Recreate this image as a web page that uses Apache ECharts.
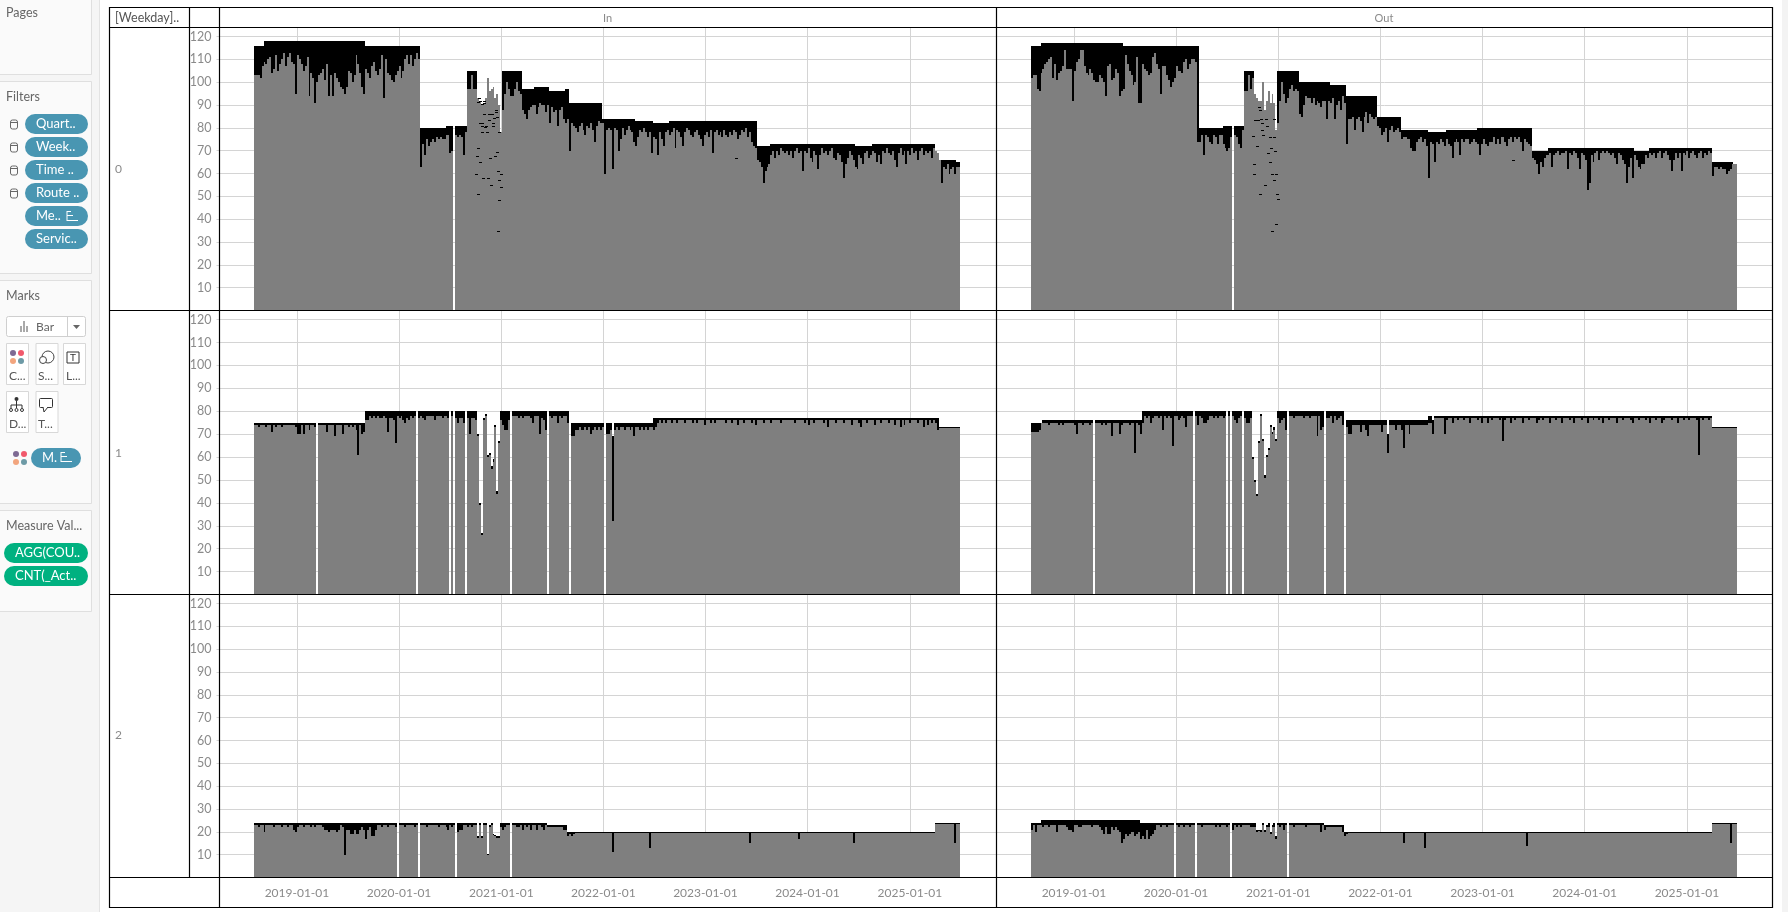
<!DOCTYPE html>
<html><head><meta charset="utf-8">
<style>html,body{margin:0;padding:0;background:#fff}#c{width:1788px;height:912px}</style>
<script src="https://cdn.jsdelivr.net/npm/echarts@6/dist/echarts.min.js"></script>
</head><body><div id="c"></div>
<script>
const r=(v,n)=>Array(n).fill(v);
const firstWeek=Date.UTC(2018,7,3), DAY=86400000;
const rowLabels=['0','1','2'];
const colLabels=['In','Out'];
const yTicksMax=124;

// Weekday 0, In
const grey0In=[
103,103,103,102,107,109,108,110,111,104,106,112,105,108,110,113,107,111,113,109,
108,95,112,110,108,105,107,111,94,104,102,91,100,103,104,106,101,108,94,103,
94,104,102,100,98,97,95,98,105,104,100,103,112,108,104,98,95,106,104,102,
107,109,105,103,106,112,93,110,104,103,101,100,103,105,107,102,105,110,112,108,
112,107,110,113,110,63,73,68,75,72,74,75,74,76,75,76,75,75,77,77,
69,70,null,77,76,77,76,68,78,97,97,103,97,97,93,92,90,91,93,102,
96,97,98,93,95,90,78,88,95,100,97,94,94,97,100,96,95,88,86,84,
88,89,90,90,86,89,91,90,90,87,90,82,89,87,88,81,88,89,84,82,
84,70,82,81,80,78,81,82,79,77,81,80,82,79,74,81,83,82,82,60,
79,80,79,62,80,79,70,75,80,77,79,81,79,78,74,72,76,79,78,80,
78,76,78,69,76,75,68,78,75,72,78,79,77,78,80,71,79,78,76,72,
78,80,79,77,76,78,79,77,75,72,77,78,76,79,69,78,79,77,78,76,
79,77,76,78,77,79,78,75,77,79,78,80,76,78,74,72,71,66,65,63,
56,61,63,64,68,70,67,70,68,71,70,69,70,68,70,67,70,71,69,70,
61,70,69,71,67,65,70,68,62,68,71,69,70,68,70,71,67,66,69,68,
65,58,64,67,70,68,66,63,62,68,67,64,69,70,67,68,70,69,65,68,
64,70,69,71,69,68,70,66,63,69,71,68,70,64,70,68,71,69,70,66,
70,71,68,70,69,70,67,71,70,69,66,56,63,62,64,60,62,63,60,63,63];
const top0In=[...r(116,5),...r(118,52),...r(116,28),...r(80,13),...r(81,4),null,...r(81,6),...r(105,5),...r(null,13),...r(105,10),
...r(97,6),...r(98,8),...r(96,8),...r(97,2),...r(91,17),...r(84,17),...r(83,9),...r(82,8),...r(83,45),...r(72,7),...r(73,43),...r(72,9),...r(73,32),...r(66,11),65,65];
const dash0In=[[114.6,92.9],[115.1,91.9],[114.1,91.2],[116.5,90.3],[117.2,91.9],[117.5,91.1],[117.5,86.1],[120,86],[121.4,86],[123.6,87.9],[123.3,87.1],[122.6,84.2],[124,84.9],[119.7,83.5],[115.5,82],[116.5,82],[116.3,81],[118.4,81],[118,80.2],[121.9,82],[121.9,81],[116.5,78],[118.9,78],[125.2,78],[114.4,71],[113.9,67.8],[120.6,67],[123.1,67.8],[124.1,69.3],[115.5,64.9],[113.4,60],[116.8,57.9],[119.5,57.9],[124.6,61],[126.2,60],[121.1,55.2],[125.2,57],[126.2,54],[114.4,50.9],[125.2,48.2],[124.6,35],[246.3,67]];

// Weekday 0, Out
const grey0Out=[
102,103,103,97,96,104,106,108,109,110,111,102,108,101,104,105,107,114,106,106,
106,92,105,109,110,114,114,107,104,103,106,104,101,100,100,103,102,100,94,107,
108,101,102,106,104,94,96,97,112,108,105,103,99,100,111,91,91,108,106,105,
103,104,111,113,108,106,95,107,107,103,101,98,100,102,107,105,105,104,109,110,
106,108,110,110,109,74,74,77,68,77,76,74,73,77,76,73,77,77,73,71,
70,71,76,null,77,76,73,71,79,96,96,103,97,102,95,93,92,92,100,88,
92,96,91,95,91,79,82,92,100,95,91,93,97,99,96,97,96,86,85,90,
94,93,93,91,93,90,92,91,89,92,92,84,92,91,93,84,90,92,88,94,
91,73,84,84,85,79,84,85,83,78,85,87,82,86,85,84,85,81,80,77,
78,80,74,79,81,78,79,80,78,75,76,76,75,75,71,70,70,74,75,76,
74,75,72,58,74,73,65,74,73,75,74,72,75,73,72,67,74,75,74,68,
75,74,75,75,73,74,75,74,73,68,73,75,73,72,74,74,76,73,75,73,
76,76,74,72,75,76,74,76,75,76,74,70,75,74,73,72,67,66,64,60,
65,63,67,68,68,69,63,68,69,70,68,69,69,70,62,69,68,70,69,67,
62,69,68,66,53,56,68,65,69,70,66,69,70,69,70,69,68,69,67,64,
69,68,66,64,56,63,67,58,68,66,63,62,64,64,68,67,69,68,69,67,
69,70,67,69,70,68,66,61,66,69,67,69,61,69,68,70,67,69,70,68,
67,69,70,67,69,68,70,69,59,63,63,62,63,62,62,60,61,62,64,64,64];
const top0Out=[...r(116,5),...r(117,42),...r(116,39),...r(80,12),...r(81,5),null,...r(81,5),...r(105,5),...r(null,12),...r(105,11),
...r(100,16),...r(99,8),...r(94,16),...r(85,12),...r(79,14),...r(78,9),...r(79,16),...r(80,28),...r(70,8),...r(71,44),...r(70,8),...r(71,32),...r(65,11),64,64];
const dash0Out=[[113.3,76.3],[113.6,64],[113.8,60],[115.4,72],[117,50.9],[114.5,83.3],[115.7,83.3],[117.6,84],[117,88],[116.2,89],[117.9,82],[117.9,79],[118.4,77],[119.6,55],[120.5,81],[120.1,84],[121.1,69],[122.2,76],[122.2,65],[122.7,71],[123,60],[123.9,76],[124.2,57],[124.7,70],[125.2,60],[125.2,38],[123,35],[125.7,51],[126.2,49],[124.2,84],[246,65.8]];

// Weekday 1, In
const grey1In=[
74,74,73,74,74,74,73,74,74,71,74,73,74,74,73,74,74,74,74,74,
74,73,70,70,74,70,74,74,72,74,74,73,null,74,74,74,74,71,74,74,
74,69,74,74,74,70,74,74,73,74,73,74,72,61,74,70,71,76,76,78,
77,78,77,78,77,77,78,77,71,77,77,76,66,78,77,78,76,75,77,76,
78,77,78,null,77,78,77,76,78,78,78,78,76,78,78,78,77,78,78,77,
null,78,null,77,75,77,77,75,null,77,70,77,77,76,69,39,26,76,78,60,
61,55,58,73,44,66,76,74,72,72,76,null,78,78,78,77,78,77,78,78,
78,77,75,78,78,78,70,77,76,72,null,78,77,78,78,75,78,77,78,78,
75,null,69,69,72,72,73,72,72,73,72,73,70,72,73,72,73,72,73,null,
70,70,72,32,72,73,72,73,73,72,73,73,72,73,69,73,73,72,73,72,
73,72,73,73,72,73,75,76,75,76,75,76,76,75,76,76,75,76,76,76,
75,76,76,76,75,76,75,76,76,76,74,76,76,75,76,75,76,76,76,76,
76,75,76,76,75,76,76,74,76,76,75,76,76,76,75,76,74,76,76,76,
75,76,76,76,75,76,76,76,76,75,76,76,76,76,76,76,75,76,76,76,
76,75,76,74,76,76,75,76,76,76,76,75,76,73,76,76,76,75,76,76,
76,75,76,76,76,74,76,76,76,75,73,76,76,75,76,76,76,74,76,76,
75,76,76,76,75,76,76,74,76,76,73,76,74,76,76,75,76,76,76,75,
76,76,73,76,74,76,75,76,75,72,72.5,72.5,72.5,72.5,72.5,72.5,72.5,72.5,72.5,72.5,72.5];
const top1In=[...r(75,32),null,...r(75,24),...r(80,26),null,...r(80,16),null,80,null,...r(80,5),null,...r(80,5),
70,40,27,77,79,61,62,56,59,74,45,67,...r(80,5),null,...r(80,18),null,...r(80,10),null,...r(75,17),null,...r(75,3),69,...r(75,20),...r(77,3),...r(77,143),...r(73,11)];

// Weekday 1, Out
const grey1Out=[
71,71,71,71,72,75,75,75,75,74,75,75,75,75,74,75,74,75,75,75,
75,75,74,70,75,75,74,75,75,75,74,75,null,75,75,75,74,75,74,75,
75,69,75,75,75,70,74,75,75,75,74,75,75,62,75,74,70,75,78,77,
78,75,77,78,78,77,78,72,78,77,78,77,65,78,78,76,77,78,77,73,
78,78,78,null,78,74,78,77,75,75,76,78,78,77,78,77,78,78,77,78,
null,78,null,78,76,75,77,78,null,77,75,75,77,59,49,43,66,78,67,51,
60,63,73,70,72,67,77,75,76,77,72,null,78,78,77,78,78,78,78,77,
78,78,77,78,78,78,69,78,72,73,null,77,77,78,75,78,76,77,78,74,
null,73,70,70,74,74,74,74,71,74,74,72,69,74,74,74,74,74,74,71,
74,74,62,74,74,74,72,74,74,72,64,74,74,70,74,74,74,74,74,74,
74,74,74,75,75,70,77,77,77,77,77,70,76,77,77,75,77,77,76,77,
77,76,77,77,75,77,77,77,76,77,75,77,77,75,77,76,77,77,77,76,
77,67,76,77,77,75,77,76,77,77,77,75,77,77,76,77,77,77,75,76,
77,76,77,77,77,75,77,77,76,77,77,75,77,77,77,76,77,75,77,77,
77,76,77,77,75,77,77,76,77,77,76,77,75,77,77,76,77,77,77,75,
77,77,76,77,77,77,76,75,77,77,76,77,77,77,76,77,75,77,77,76,
77,77,75,76,77,77,77,76,77,77,75,77,77,76,77,77,76,77,77,77,
76,61,77,76,77,77,76,77,...r(72.5,13)];
const top1Out=[...r(75,6),...r(76,26),null,...r(76,24),...r(80,26),null,...r(80,16),null,80,null,...r(80,5),null,...r(80,4),
60,50,44,67,79,68,52,61,64,74,71,73,68,...r(80,5),null,...r(80,18),null,...r(80,9),null,...r(76,21),70,...r(76,20),78,78,76,...r(78,142),...r(73,13)];

// Weekday 2, In
const grey2In=[
23,23,22,23,23,20,23,23,23,23,22,23,23,23,22,23,23,22,23,23,
21,20,22,23,23,22,23,23,23,22,23,22,23,23,23,22,21,21,20,21,
21,21,20,21,23,22,10,21,21,19,19,21,19,19,21,22,21,17,21,22,
18,18,21,23,23,22,23,23,22,23,23,23,22,null,23,23,23,22,23,23,
23,23,22,23,null,23,23,23,22,23,23,23,23,23,22,23,23,23,22,21,
23,22,23,null,20,21,21,23,23,22,23,22,23,23,17.5,23,17.5,23,23,10,
22,23,18.5,18,17.5,17.5,22,21,22,23,23,null,23,23,22,22,23,21,23,22,
23,21,23,23,21,23,23,22,21,23,22,22,22,22,22,22,22,22,21,21,
18,19,18,19,...r(19.5,19),11,...r(19.5,18),13,...r(19.5,50),15,...r(19.5,24),17,...r(19.5,27),15,...r(19.5,41),...r(23.5,10),15,23.5,23.5];
const top2In=[...r(24,73),null,...r(24,10),null,...r(24,18),null,...r(24,10),18,24,18,24,24,10.5,23,24,19,18.5,18,18,...r(24,5),null,...r(24,18),...r(23,10),...r(20,188),...r(24,13)];

// Weekday 2, Out
const grey2Out=[
21,23,20,23,23,23,22,23,23,22,23,23,23,20,23,23,23,23,22,21,
21,20,23,23,22,22,23,23,23,23,23,22,23,23,23,22,21,19,22,19,
19,22,21,22,21,20,15,17,19,18,19,20,20,18,19,20,17,18,17,21,
17,18,19,21,23,23,22,23,23,22,23,23,23,null,23,22,23,23,22,23,
23,22,23,23,null,23,23,22,23,23,23,23,23,23,22,23,22,23,23,23,
22,23,null,21,23,22,23,22,23,23,23,23,22,22,22,20,20.5,20,23,20,
22,22,19,22,22,17,23,22,23,21,23,null,23,23,22,23,23,23,23,23,
22,23,23,23,23,23,23,23,20,23,21,22,22,22,22,22,22,22,22,20,
18,19,...r(19.5,28),15,...r(19.5,10),13,...r(19.5,51),14,...r(19.5,94),...r(23.5,9),15,...r(23.5,3)];
const top2Out=[...r(24,5),...r(25,51),...r(24,17),null,...r(24,10),null,...r(24,17),null,...r(24,11),24,21,21,21,24,21,23,24,20,23,24,18,...r(24,5),null,...r(24,18),...r(23,10),...r(20,188),...r(24,13)];

const panels=[
 {grey:grey0In,top:top0In,dash:dash0In,row:0,col:0},
 {grey:grey0Out,top:top0Out,dash:dash0Out,row:0,col:1},
 {grey:grey1In,top:top1In,dash:[],row:1,col:0},
 {grey:grey1Out,top:top1Out,dash:[],row:1,col:1},
 {grey:grey2In,top:top2In,dash:[],row:2,col:0},
 {grey:grey2Out,top:top2Out,dash:[],row:2,col:1}
];
const colX=[[219.5,777],[996.5,776]];
const rowY=[[27.5,283],[310.5,284],[594.5,283]];
const xMin=Date.UTC(2018,2,30);
const xMaxes=[xMin+2779*DAY,xMin+2775*DAY];
const wk=i=>firstWeek+7*DAY*i;
const GRID='#d4d4d4', TXT='#8a8a8a', FONT='Lato';

// Bars go through the axis scales (api.coord); only the result is snapped to whole device pixels.
const barItem=color=>(params,api)=>{
  const d=api.value(0), v=api.value(1);
  if(isNaN(v)) return null;
  const a=api.coord([d,0]), b=api.coord([d,v]), n=api.coord([d+7*DAY,0]);
  const x0=Math.round(a[0]-1), x1=Math.round(n[0]-1), y=Math.round(b[1]), base=Math.round(a[1]);
  return {type:'rect',silent:true,shape:{x:x0,y:y,width:x1-x0,height:base-y},style:{fill:color}};
};
const dashItem=(params,api)=>{
  const c=api.coord([api.value(0),api.value(1)]);
  return {type:'rect',silent:true,z2:10,shape:{x:Math.round(c[0]-1.5),y:Math.round(c[1]),width:3,height:1},style:{fill:'#000'}};
};

const grid=[],xAxis=[],yAxis=[],series=[];
panels.forEach((p,k)=>{
  grid.push({left:colX[p.col][0],width:colX[p.col][1],top:rowY[p.row][0],height:rowY[p.row][1],containLabel:false});
  xAxis.push({type:'time',gridIndex:k,min:xMin,max:xMaxes[p.col],splitNumber:8,
    axisLine:{show:false},axisTick:{show:false},
    splitLine:{show:true,lineStyle:{color:GRID,width:1}},
    axisLabel:{show:p.row===2,color:TXT,fontFamily:FONT,fontSize:12,margin:10,showMinLabel:false,showMaxLabel:false,hideOverlap:false,
      formatter:v=>new Date(v).toISOString().slice(0,10)}});
  yAxis.push({type:'value',gridIndex:k,min:0,max:yTicksMax,interval:10,
    axisLine:{show:false},axisTick:{show:p.col===0,length:3,lineStyle:{color:GRID}},
    splitLine:{show:true,lineStyle:{color:GRID,width:1}},
    axisLabel:{show:p.col===0,color:TXT,fontFamily:FONT,fontSize:12.5,margin:8,showMinLabel:false,showMaxLabel:false}});
  series.push({type:'custom',name:'AGG(COUNT)',xAxisIndex:k,yAxisIndex:k,silent:true,z:2,encode:{x:0,y:1},renderItem:barItem('#000'),
    data:p.top.map((v,i)=>[wk(i),v])});
  series.push({type:'custom',name:'CNT(_Act)',xAxisIndex:k,yAxisIndex:k,silent:true,z:3,encode:{x:0,y:1},renderItem:barItem('#7f7f7f'),
    data:p.grey.map((v,i)=>[wk(i),v])});
  if(p.dash.length) series.push({type:'custom',name:'dips',xAxisIndex:k,yAxisIndex:k,silent:true,z:5,encode:{x:0,y:1},renderItem:dashItem,
    data:p.dash.map(d=>[wk(d[0]),d[1]])});
});

// Worksheet frame and Tableau side panels
const g=[];
const rect=(x,y,w,h,fill,stroke,rad)=>g.push({type:'rect',silent:true,z:20,shape:{x,y,width:w,height:h,r:rad||0},style:{fill:fill||'none',stroke:stroke||null,lineWidth:1}});
const line=(x1,y1,x2,y2,c,w)=>g.push({type:'line',silent:true,z:21,shape:{x1,y1,x2,y2},style:{stroke:c||'#000',lineWidth:w||1.2}});
const txt=(x,y,t,c,size,al)=>g.push({type:'text',silent:true,z:22,x,y,style:{text:t,fill:c||'#666',font:(size||12.5)+'px '+FONT,textAlign:al||'left',textVerticalAlign:'middle'}});
const dot=(x,y,rad,c)=>g.push({type:'circle',silent:true,z:22,shape:{cx:x,cy:y,r:rad},style:{fill:c}});

rect(0,0,99,912,'#f5f5f5'); line(99.5,0,99.5,912,'#e3e3e3',1);
rect(1782,0,6,912,'#f3f3f3');
[[0,-2,92,76],[0,81,92,192],[0,280,92,223],[0,510,92,101]].forEach(a=>rect(a[0]-1,a[1]+.5,a[2]+.5,a[3],'#fafafa','#dfdfdf'));
txt(6,13,'Pages');txt(6,97,'Filters');txt(6,296,'Marks');txt(6,526,'Measure Val...');
[['Quart..',114],['Week..',137],['Time ..',160],['Route ..',183],['Me..',206],['Servic..',229]].forEach((a,i)=>{
  rect(25,a[1],63,20,'#4996b2',null,10);
  txt(36,a[1]+10,a[0],'#fff',13);
  if(i<4){rect(10.5,a[1]+6,7,9,'none','#666',2);line(10.5,a[1]+8.5,17.5,a[1]+8.5,'#666',1);}
});
line(67,211.5,71,211.5,'#fff',1);line(67,215.5,73,215.5,'#fff',1);line(67,220.5,78,220.5,'#fff',1);line(67,211,67,221,'#fff',1);
rect(6.5,316.5,79,20,'#fff','#cfcfcf',2);line(67.5,317,67.5,336,'#cfcfcf',1);
[18,21,24,27].forEach((x,i)=>line(x,[332,326,321,326][i],x,332,'#555',1));
txt(36,327,'Bar','#666',12);
g.push({type:'polygon',silent:true,z:22,shape:{points:[[73,325],[80,325],[76.5,329]]},style:{fill:'#666'}});
[[6,343],[35.5,343],[63,343],[6,391],[35.5,391]].forEach(a=>rect(a[0]+.5,a[1]+.5,22,41,'#fff','#d8d8d8'));
const dots=(x,y)=>{dot(x,y,3,'#7e6a93');dot(x+8,y,3,'#f1596c');dot(x,y+8,3,'#f2a57e');dot(x+8,y+8,3,'#6d9aa6');};
dots(13,353);
g.push({type:'circle',silent:true,z:22,shape:{cx:48,cy:357,r:6},style:{fill:'none',stroke:'#444'}});
g.push({type:'circle',silent:true,z:22,shape:{cx:43,cy:360,r:3.5},style:{fill:'#fff',stroke:'#444'}});
rect(67,352,12,11,'#fff','#333');txt(73,358,'T','#333',10,'center');
dot(16.5,399,2,'#333');line(16.5,401,16.5,405,'#333',1);line(11,405,22,405,'#333',1);
[11,16.5,22].forEach(x=>{line(x,405,x,408,'#333',1);g.push({type:'circle',silent:true,z:22,shape:{cx:x,cy:410,r:1.5},style:{fill:'#fff',stroke:'#333'}});});
rect(39.5,398.5,13,9,'#fff','#333',1);g.push({type:'polyline',silent:true,z:23,shape:{points:[[43,407],[44,412],[48,407]]},style:{fill:'#fff',stroke:'#333'}});
[['C...',9,376],['S...',38,376],['L...',66,376],['D...',9,424],['T...',38,424]].forEach(a=>txt(a[1],a[2],a[0],'#555',12));
dots(16,454);
rect(31,448,50,20,'#4996b2',null,10);txt(42,458,'M.','#fff',13);
line(61,452.5,65,452.5,'#fff',1);line(61,456.5,67,456.5,'#fff',1);line(61,461.5,72,461.5,'#fff',1);line(61,452,61,462,'#fff',1);
rect(4,543,84,20,'#00b180',null,10);txt(15,553,'AGG(COU..','#fff',13);
rect(4,566,84,20,'#00b180',null,10);txt(15,576,'CNT(_Act..','#fff',13);

[7.5,27.5,310.5,594.5,877.5,907.5].forEach(y=>line(109.5,y,1772.5,y));
[[109.5,7,908],[189.5,7,877.5],[219.5,7,908],[996.5,7,908],[1772.5,7,908]].forEach(a=>line(a[0],a[1],a[0],a[2]));
txt(115,18,'[Weekday]..','#555',12.5);
txt(607.5,18,colLabels[0],TXT,11,'center');txt(1384,18,colLabels[1],TXT,11,'center');
txt(115,169,rowLabels[0],TXT,12);txt(115,453,rowLabels[1],TXT,12);txt(115,735,rowLabels[2],TXT,12);

const chart=echarts.init(document.getElementById('c'),null,{renderer:'canvas'});
chart.setOption({animation:false,useUTC:true,backgroundColor:'#fff',grid,xAxis,yAxis,series,graphic:{elements:g},tooltip:{show:false},legend:{show:false}});
</script></body></html>
